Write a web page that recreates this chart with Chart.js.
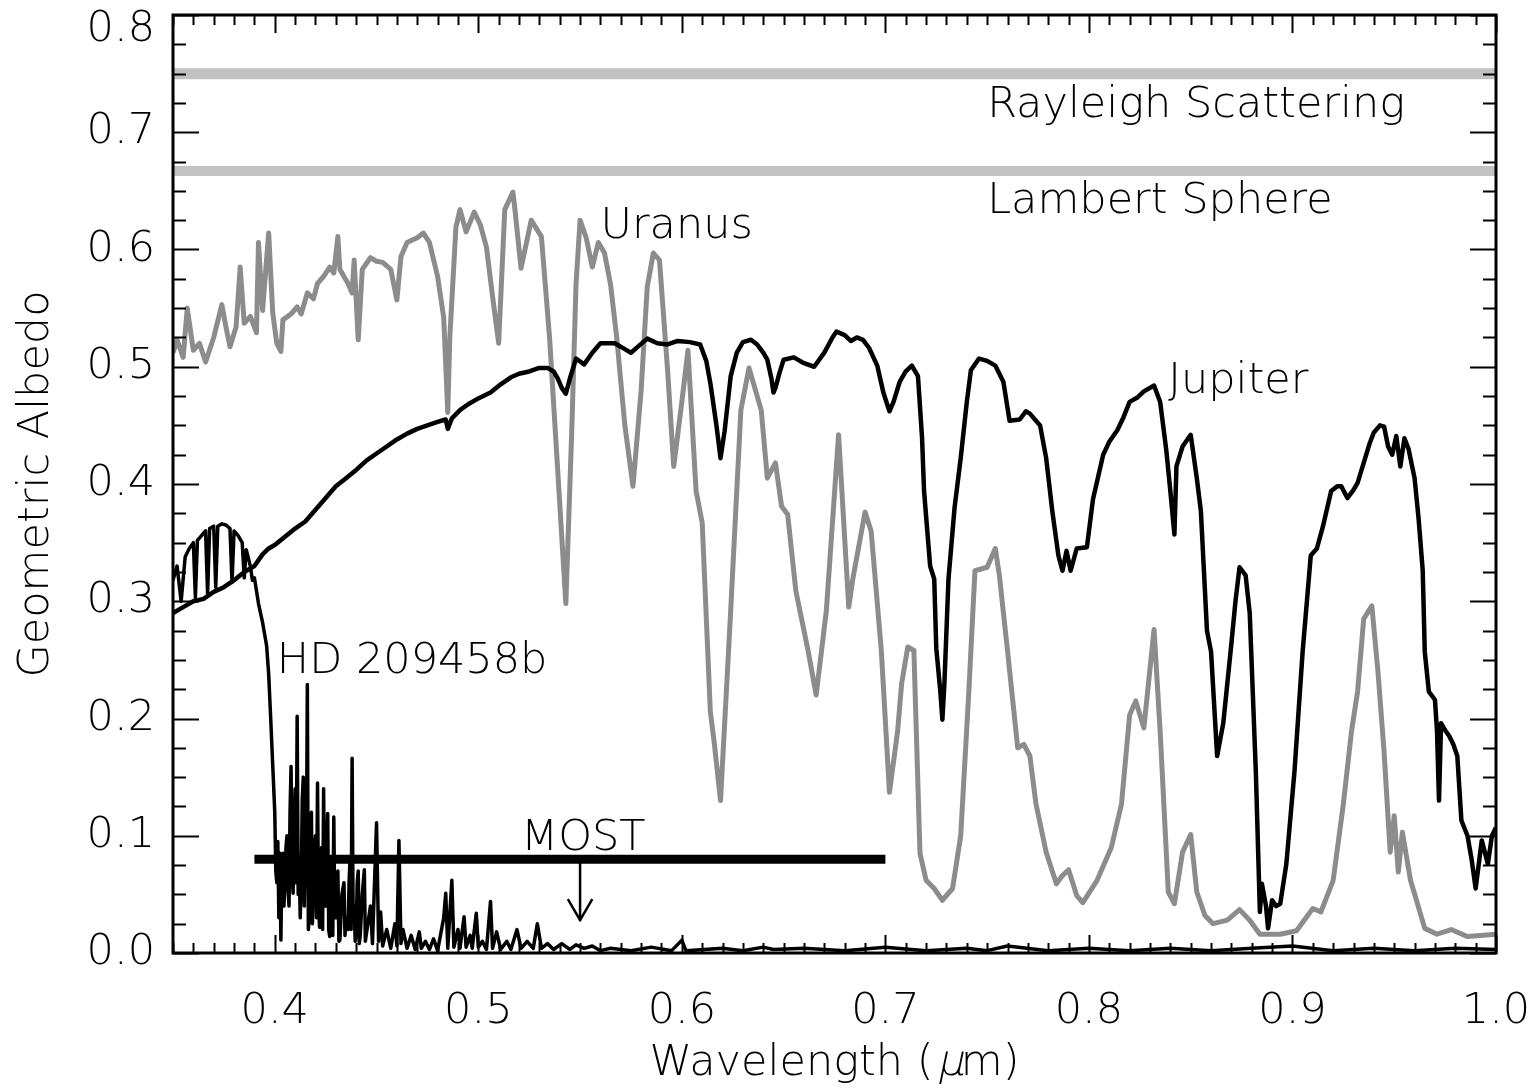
<!DOCTYPE html>
<html>
<head>
<meta charset="utf-8">
<script src="https://cdn.jsdelivr.net/npm/chart.js@4.4.1/dist/chart.umd.min.js"></script>
<style>
  body { margin: 0; background: #fff; }
  canvas { display: block; }
</style>
</head>
<body>
<canvas id="albedoChart" width="1538" height="1091"></canvas>
<script>
const FONT = "'DejaVu Sans', 'Liberation Sans', sans-serif";
const WEIGHT = 200;

const xTickLabels = [0.4, 0.5, 0.6, 0.7, 0.8, 0.9, 1.0];
const yTickLabels = [0.0, 0.1, 0.2, 0.3, 0.4, 0.5, 0.6, 0.7, 0.8];

const rayleighAlbedo = 0.75;
const lambertAlbedo = 0.667;

const uranusWave = [
  0.350, 0.352, 0.355, 0.357, 0.360, 0.363, 0.366, 0.370, 0.374, 0.376, 0.378, 0.381, 0.383, 0.385,
  0.388, 0.391, 0.392, 0.394, 0.397, 0.399, 0.401, 0.403, 0.404, 0.408, 0.411, 0.413, 0.416, 0.419,
  0.421, 0.424, 0.427, 0.429, 0.431, 0.432, 0.436, 0.438, 0.439, 0.441, 0.443, 0.447, 0.450, 0.453,
  0.457, 0.460, 0.462, 0.465, 0.470, 0.473, 0.476, 0.480, 0.483, 0.485, 0.486, 0.489, 0.491, 0.494,
  0.498, 0.501, 0.504, 0.507, 0.510, 0.513, 0.517, 0.518, 0.521, 0.526, 0.531, 0.535, 0.539, 0.543,
  0.546, 0.548, 0.550, 0.553, 0.556, 0.559, 0.562, 0.565, 0.568, 0.572, 0.576, 0.580, 0.583, 0.586,
  0.589, 0.593, 0.596, 0.600, 0.603, 0.607, 0.610, 0.614, 0.616, 0.619, 0.624, 0.629, 0.633, 0.639,
  0.642, 0.646, 0.649, 0.652, 0.656, 0.662, 0.666, 0.671, 0.677, 0.682, 0.684, 0.690, 0.693, 0.698,
  0.702, 0.706, 0.708, 0.711, 0.714, 0.717, 0.720, 0.724, 0.728, 0.733, 0.737, 0.741, 0.744, 0.750,
  0.754, 0.756, 0.760, 0.765, 0.768, 0.771, 0.774, 0.779, 0.784, 0.787, 0.790, 0.794, 0.797, 0.804,
  0.811, 0.816, 0.820, 0.823, 0.827, 0.832, 0.835, 0.839, 0.842, 0.846, 0.850, 0.853, 0.857, 0.861,
  0.868, 0.874, 0.879, 0.884, 0.894, 0.902, 0.910, 0.914, 0.920, 0.925, 0.929, 0.932, 0.935, 0.939,
  0.942, 0.945, 0.948, 0.950, 0.952, 0.954, 0.958, 0.965, 0.971, 0.978, 0.986, 1.000
];
const uranusAlbedo = [
  0.512, 0.523, 0.508, 0.550, 0.514, 0.520, 0.504, 0.525, 0.553, 0.534, 0.517, 0.534, 0.585, 0.537,
  0.543, 0.529, 0.606, 0.548, 0.614, 0.546, 0.520, 0.513, 0.540, 0.545, 0.551, 0.545, 0.563, 0.558,
  0.571, 0.577, 0.585, 0.580, 0.611, 0.583, 0.571, 0.563, 0.591, 0.523, 0.583, 0.593, 0.590, 0.589,
  0.583, 0.557, 0.594, 0.606, 0.610, 0.614, 0.606, 0.577, 0.542, 0.461, 0.525, 0.619, 0.634, 0.615,
  0.632, 0.621, 0.602, 0.560, 0.520, 0.634, 0.649, 0.634, 0.584, 0.625, 0.611, 0.525, 0.412, 0.298,
  0.450, 0.570, 0.625, 0.610, 0.585, 0.606, 0.597, 0.570, 0.525, 0.450, 0.398, 0.480, 0.568, 0.597,
  0.591, 0.497, 0.415, 0.470, 0.514, 0.394, 0.367, 0.206, 0.178, 0.130, 0.292, 0.463, 0.499, 0.463,
  0.405, 0.418, 0.381, 0.374, 0.309, 0.258, 0.220, 0.292, 0.442, 0.295, 0.319, 0.376, 0.360, 0.258,
  0.137, 0.189, 0.230, 0.261, 0.258, 0.085, 0.062, 0.055, 0.045, 0.055, 0.100, 0.223, 0.326, 0.329,
  0.345, 0.322, 0.258, 0.175, 0.178, 0.168, 0.127, 0.086, 0.059, 0.066, 0.071, 0.049, 0.043, 0.062,
  0.090, 0.127, 0.203, 0.215, 0.192, 0.276, 0.189, 0.052, 0.042, 0.086, 0.101, 0.052, 0.032, 0.025,
  0.028, 0.037, 0.028, 0.016, 0.016, 0.019, 0.038, 0.035, 0.062, 0.127, 0.189, 0.223, 0.285, 0.296,
  0.240, 0.172, 0.086, 0.117, 0.069, 0.103, 0.062, 0.021, 0.016, 0.020, 0.014, 0.016
];

const jupiterWave = [
  0.350, 0.355, 0.360, 0.365, 0.370, 0.375, 0.380, 0.385, 0.390, 0.394, 0.397, 0.400, 0.405, 0.410,
  0.415, 0.420, 0.425, 0.430, 0.435, 0.440, 0.445, 0.450, 0.455, 0.460, 0.465, 0.470, 0.475, 0.480,
  0.484, 0.485, 0.487, 0.491, 0.495, 0.500, 0.506, 0.511, 0.516, 0.520, 0.525, 0.530, 0.534, 0.537,
  0.539, 0.541, 0.543, 0.545, 0.548, 0.552, 0.556, 0.560, 0.567, 0.572, 0.575, 0.579, 0.583, 0.588,
  0.593, 0.598, 0.604, 0.609, 0.612, 0.614, 0.617, 0.619, 0.621, 0.624, 0.627, 0.630, 0.634, 0.637,
  0.640, 0.642, 0.644, 0.645, 0.646, 0.648, 0.650, 0.655, 0.660, 0.665, 0.670, 0.674, 0.676, 0.680,
  0.683, 0.686, 0.689, 0.692, 0.696, 0.699, 0.702, 0.704, 0.707, 0.710, 0.713, 0.716, 0.718, 0.719,
  0.722, 0.724, 0.725, 0.727, 0.728, 0.729, 0.731, 0.734, 0.737, 0.740, 0.742, 0.746, 0.750, 0.754,
  0.758, 0.760, 0.761, 0.766, 0.769, 0.771, 0.774, 0.776, 0.779, 0.782, 0.785, 0.787, 0.789, 0.791,
  0.794, 0.799, 0.802, 0.807, 0.810, 0.814, 0.817, 0.820, 0.824, 0.827, 0.832, 0.835, 0.838, 0.840,
  0.842, 0.843, 0.846, 0.850, 0.853, 0.855, 0.858, 0.860, 0.863, 0.866, 0.870, 0.872, 0.874, 0.877,
  0.879, 0.882, 0.884, 0.885, 0.887, 0.888, 0.890, 0.892, 0.894, 0.897, 0.901, 0.905, 0.909, 0.912,
  0.915, 0.919, 0.922, 0.924, 0.927, 0.930, 0.932, 0.935, 0.938, 0.940, 0.943, 0.945, 0.947, 0.949,
  0.951, 0.953, 0.955, 0.957, 0.960, 0.962, 0.964, 0.965, 0.967, 0.970, 0.971, 0.972, 0.973, 0.975,
  0.977, 0.979, 0.981, 0.983, 0.986, 0.988, 0.990, 0.993, 0.996, 0.998, 1.000
];
const jupiterAlbedo = [
  0.290, 0.295, 0.300, 0.302, 0.308, 0.312, 0.318, 0.325, 0.330, 0.340, 0.345, 0.348, 0.355, 0.362,
  0.368, 0.378, 0.388, 0.398, 0.405, 0.412, 0.420, 0.426, 0.432, 0.438, 0.443, 0.447, 0.450, 0.453,
  0.455, 0.447, 0.456, 0.463, 0.468, 0.473, 0.478, 0.485, 0.491, 0.494, 0.496, 0.499, 0.499, 0.496,
  0.490, 0.482, 0.477, 0.490, 0.507, 0.502, 0.512, 0.520, 0.520, 0.515, 0.512, 0.518, 0.524, 0.520,
  0.519, 0.522, 0.521, 0.519, 0.505, 0.486, 0.450, 0.422, 0.445, 0.492, 0.512, 0.521, 0.523, 0.519,
  0.512, 0.506, 0.490, 0.478, 0.482, 0.495, 0.506, 0.508, 0.503, 0.500, 0.512, 0.525, 0.530, 0.527,
  0.522, 0.525, 0.523, 0.516, 0.501, 0.478, 0.462, 0.470, 0.487, 0.496, 0.501, 0.492, 0.440, 0.394,
  0.330, 0.319, 0.260, 0.223, 0.199, 0.230, 0.319, 0.380, 0.422, 0.470, 0.497, 0.507, 0.505, 0.501,
  0.487, 0.465, 0.454, 0.455, 0.462, 0.460, 0.454, 0.450, 0.422, 0.377, 0.339, 0.326, 0.343, 0.326,
  0.345, 0.346, 0.387, 0.425, 0.436, 0.446, 0.457, 0.470, 0.474, 0.479, 0.484, 0.470, 0.429, 0.394,
  0.357, 0.415, 0.432, 0.442, 0.405, 0.377, 0.275, 0.257, 0.168, 0.196, 0.264, 0.300, 0.329, 0.322,
  0.290, 0.155, 0.035, 0.059, 0.040, 0.021, 0.045, 0.040, 0.042, 0.076, 0.155, 0.257, 0.339, 0.345,
  0.364, 0.394, 0.398, 0.398, 0.388, 0.395, 0.401, 0.418, 0.435, 0.444, 0.450, 0.449, 0.432, 0.425,
  0.441, 0.415, 0.439, 0.430, 0.405, 0.370, 0.326, 0.257, 0.223, 0.216, 0.190, 0.130, 0.196, 0.190,
  0.185, 0.178, 0.168, 0.113, 0.100, 0.080, 0.055, 0.096, 0.076, 0.100, 0.107
];

const hdWave = [
  0.350, 0.352, 0.354, 0.356, 0.358, 0.360, 0.361, 0.362, 0.364, 0.366, 0.367, 0.368, 0.370, 0.371,
  0.372, 0.374, 0.376, 0.378, 0.379, 0.380, 0.382, 0.384, 0.385, 0.386, 0.388, 0.389, 0.390, 0.392,
  0.394, 0.396, 0.397, 0.398, 0.399,
  0.4000, 0.4005, 0.4010, 0.4015, 0.4020, 0.4025, 0.4030, 0.4035, 0.4040, 0.4045, 0.4050, 0.4055,
  0.4060, 0.4065, 0.4070, 0.4075, 0.4080, 0.4085, 0.4090, 0.4095, 0.4100, 0.4105, 0.4110, 0.4115,
  0.4120, 0.4125, 0.4130, 0.4135, 0.4140, 0.4145, 0.4150, 0.4155, 0.4160, 0.4165, 0.4170, 0.4175,
  0.4180, 0.4185, 0.4190, 0.4195, 0.4200, 0.4205, 0.4210, 0.4215, 0.4220, 0.4225, 0.4230, 0.4235,
  0.4240, 0.4245, 0.4250, 0.4255, 0.4260, 0.4265, 0.4270, 0.4275, 0.4280, 0.4285, 0.4290, 0.4295,
  0.4300, 0.4305, 0.4310, 0.4315, 0.4320, 0.4330, 0.4340, 0.4345, 0.4350, 0.4360, 0.4365, 0.4370,
  0.4375, 0.4380, 0.4385, 0.4390, 0.4395, 0.4400, 0.4405, 0.4410, 0.4415, 0.4420, 0.4430, 0.4440,
  0.4445,
  0.447, 0.448, 0.450, 0.451, 0.452, 0.453, 0.455,
  0.457, 0.459, 0.460, 0.461, 0.462, 0.463, 0.465, 0.467, 0.469, 0.471, 0.472, 0.474, 0.476, 0.478,
  0.480, 0.483, 0.484, 0.485, 0.487, 0.488, 0.490, 0.491, 0.493, 0.494, 0.496, 0.497, 0.499, 0.500,
  0.502, 0.504, 0.506, 0.507, 0.509, 0.511, 0.514, 0.516, 0.519, 0.521, 0.524, 0.527, 0.529, 0.531,
  0.534, 0.537, 0.541, 0.545, 0.548, 0.552, 0.556, 0.560, 0.565, 0.575, 0.585, 0.595, 0.600, 0.602,
  0.620, 0.630, 0.640, 0.645, 0.660, 0.680, 0.700, 0.720, 0.740, 0.750, 0.760, 0.780, 0.800, 0.820,
  0.840, 0.860, 0.880, 0.900, 0.920, 0.940, 0.960, 0.980, 1.000
];
const hdAlbedo = [
  0.318, 0.330, 0.300, 0.338, 0.345, 0.350, 0.303, 0.352, 0.356, 0.360, 0.306, 0.362, 0.364, 0.312,
  0.364, 0.366, 0.365, 0.362, 0.316, 0.360, 0.356, 0.350, 0.320, 0.344, 0.330, 0.318, 0.320, 0.298,
  0.282, 0.262, 0.238, 0.200, 0.160,
  0.120, 0.070, 0.060, 0.095, 0.030, 0.085, 0.011, 0.075, 0.085, 0.040, 0.060, 0.090,
  0.100, 0.055, 0.040, 0.120, 0.159, 0.070, 0.051, 0.110, 0.140, 0.060, 0.202, 0.050,
  0.080, 0.030, 0.060, 0.130, 0.150, 0.040, 0.090, 0.070, 0.229, 0.020, 0.031, 0.100,
  0.120, 0.025, 0.060, 0.090, 0.100, 0.030, 0.145, 0.040, 0.022, 0.080, 0.090, 0.020,
  0.140, 0.050, 0.040, 0.090, 0.119, 0.020, 0.014, 0.070, 0.080, 0.015, 0.116, 0.030,
  0.030, 0.060, 0.070, 0.010, 0.011, 0.050, 0.060, 0.015, 0.030, 0.020, 0.060, 0.080,
  0.020, 0.166, 0.030, 0.040, 0.010, 0.017, 0.060, 0.070, 0.008, 0.015, 0.050, 0.071,
  0.010,
  0.040, 0.008, 0.111, 0.010, 0.035, 0.006, 0.020,
  0.004, 0.025, 0.006, 0.096, 0.008, 0.020, 0.004, 0.015, 0.003, 0.018, 0.004, 0.010, 0.003, 0.012,
  0.002, 0.030, 0.051, 0.004, 0.062, 0.005, 0.020, 0.004, 0.031, 0.005, 0.015, 0.004, 0.034, 0.005,
  0.010, 0.003, 0.044, 0.004, 0.018, 0.003, 0.010, 0.003, 0.020, 0.004, 0.010, 0.004, 0.025, 0.004,
  0.008, 0.003, 0.008, 0.003, 0.007, 0.004, 0.006, 0.002, 0.004, 0.002, 0.005, 0.002, 0.011, 0.002,
  0.004, 0.002, 0.005, 0.003, 0.004, 0.002, 0.005, 0.002, 0.004, 0.002, 0.006, 0.002, 0.004, 0.002,
  0.004, 0.002, 0.004, 0.006, 0.002, 0.004, 0.002, 0.004, 0.003
];

// MOST upper limit: band edges, level, and the arrow
const mostBand = [0.39, 0.70];
const mostLevel = 0.08;
const mostArrowWave = 0.55;
const mostArrowTip = 0.028;

const annotations = [
  { text: "Rayleigh Scattering", x: 0.75, y: 0.713 },
  { text: "Lambert Sphere", x: 0.75, y: 0.631 },
  { text: "Uranus", x: 0.56, y: 0.610 },
  { text: "Jupiter", x: 0.839, y: 0.478 },
  { text: "HD 209458b", x: 0.401, y: 0.239 },
  { text: "MOST", x: 0.521, y: 0.088 },
];

function toPoints(xs, ys) {
  return xs.map((x, i) => ({ x, y: ys[i] }));
}

function flatLine(level) {
  return [{ x: 0.35, y: level }, { x: 1.0, y: level }];
}

// inward ticks on all four sides plus the box
const frameTicks = {
  id: "frameTicks",
  afterDatasetsDraw(chart) {
    const { ctx, chartArea: a, scales: { x, y } } = chart;
    ctx.save();
    ctx.strokeStyle = "#000";
    ctx.lineWidth = 2;
    ctx.beginPath();
    for (let v = 35; v <= 100; v++) {
      const px = Math.round(x.getPixelForValue(v / 100)) + 0.5;
      const len = v % 10 === 0 ? 18 : 10;
      ctx.moveTo(px, a.bottom);
      ctx.lineTo(px, a.bottom - len);
      ctx.moveTo(px, a.top);
      ctx.lineTo(px, a.top + len);
    }
    for (let k = 0; k <= 32; k++) {
      const py = Math.round(y.getPixelForValue(k * 0.025)) + 0.5;
      const len = k % 4 === 0 ? 26 : 13;
      ctx.moveTo(a.left, py);
      ctx.lineTo(a.left + len, py);
      ctx.moveTo(a.right, py);
      ctx.lineTo(a.right - len, py);
    }
    ctx.stroke();
    ctx.lineWidth = 3;
    ctx.strokeRect(a.left, a.top, a.right - a.left, a.bottom - a.top);
    ctx.restore();
  },
};

const textLabels = {
  id: "textLabels",
  afterDraw(chart) {
    const { ctx, chartArea: a, scales: { x, y } } = chart;
    ctx.save();
    ctx.fillStyle = "#000";
    ctx.font = `${WEIGHT} 43px ${FONT}`;
    ctx.textAlign = "left";
    ctx.textBaseline = "alphabetic";
    annotations.forEach((lab) => {
      ctx.fillText(lab.text, x.getPixelForValue(lab.x), y.getPixelForValue(lab.y));
    });

    // x title; the mu is slanted by hand so it keeps the light weight
    const parts = ["Wavelength (", "\u03bc", "m)"];
    const widths = parts.map((t) => ctx.measureText(t).width);
    const baseline = 1075;
    let cx = (a.left + a.right) / 2 - widths.reduce((s, w) => s + w, 0) / 2;
    parts.forEach((t, i) => {
      if (i === 1) {
        ctx.save();
        ctx.translate(cx + 3, baseline);
        ctx.transform(1, 0, -0.21, 1, 0, 0);
        ctx.fillText(t, 0, 0);
        ctx.restore();
      } else {
        ctx.fillText(t, cx, baseline);
      }
      cx += widths[i];
    });
    ctx.restore();
  },
};

const ctx = document.getElementById("albedoChart");

new Chart(ctx, {
  type: "scatter",
  data: {
    datasets: [
      {
        label: "HD 209458b",
        data: toPoints(hdWave, hdAlbedo),
        borderColor: "#000",
        borderWidth: 3.5,
        order: 1,
      },
      {
        label: "Jupiter",
        data: toPoints(jupiterWave, jupiterAlbedo),
        borderColor: "#000",
        borderWidth: 4.5,
        order: 2,
      },
      {
        label: "Uranus",
        data: toPoints(uranusWave, uranusAlbedo),
        borderColor: "#8c8c8c",
        borderWidth: 5,
        order: 3,
      },
      {
        label: "Rayleigh Scattering",
        data: flatLine(rayleighAlbedo),
        borderColor: "#c2c2c2",
        borderWidth: 11,
        clip: 0,
        order: 5,
      },
      {
        label: "Lambert Sphere",
        data: flatLine(lambertAlbedo),
        borderColor: "#c2c2c2",
        borderWidth: 10,
        clip: 0,
        order: 5,
      },
      {
        label: "MOST",
        data: [{ x: mostBand[0], y: mostLevel }, { x: mostBand[1], y: mostLevel }],
        borderColor: "#000",
        borderWidth: 9,
        borderCapStyle: "butt",
        order: 0,
      },
      {
        label: "MOST arrow",
        data: [
          { x: mostArrowWave, y: mostLevel },
          { x: mostArrowWave, y: mostArrowTip },
        ],
        borderColor: "#000",
        borderWidth: 2.5,
        order: 0,
      },
      {
        label: "MOST arrow head",
        data: [
          { x: mostArrowWave - 0.006, y: mostArrowTip + 0.018 },
          { x: mostArrowWave, y: mostArrowTip },
          { x: mostArrowWave + 0.006, y: mostArrowTip + 0.018 },
        ],
        borderColor: "#000",
        borderWidth: 2.5,
        order: 0,
      },
    ],
  },
  options: {
    responsive: false,
    animation: false,
    devicePixelRatio: 1,
    layout: { padding: { left: 0, top: 15, right: 42, bottom: 0 } },
    datasets: {
      scatter: {
        showLine: true,
        pointRadius: 0,
        pointHoverRadius: 0,
        tension: 0,
        borderJoinStyle: "round",
      },
    },
    plugins: {
      legend: { display: false },
      tooltip: { enabled: false },
    },
    scales: {
      x: {
        type: "linear",
        min: 0.35,
        max: 1.0,
        grid: { display: false, drawTicks: false },
        border: { display: false },
        afterBuildTicks: (scale) => {
          scale.ticks = xTickLabels.map((value) => ({ value }));
        },
        afterFit: (scale) => {
          scale.height = 138;
          scale.paddingLeft = 0;
          scale.paddingRight = 0;
        },
        ticks: {
          padding: 33,
          color: "#000",
          maxRotation: 0,
          font: { family: FONT, size: 43, weight: WEIGHT },
          callback: (v) => Number(v).toFixed(1),
        },
      },
      y: {
        type: "linear",
        min: 0,
        max: 0.8,
        grid: { display: false, drawTicks: false },
        border: { display: false },
        afterBuildTicks: (scale) => {
          scale.ticks = yTickLabels.map((value) => ({ value }));
        },
        afterFit: (scale) => {
          scale.width = 173;
          scale.paddingTop = 0;
          scale.paddingBottom = 0;
        },
        title: {
          display: true,
          text: "Geometric Albedo",
          color: "#000",
          font: { family: FONT, size: 43, weight: WEIGHT },
          padding: { top: 11, bottom: 0 },
        },
        ticks: {
          padding: 18,
          color: "#000",
          font: (c) =>
            c.tick && c.tick.value === 0.8
              ? { family: FONT, size: 43, weight: WEIGHT, lineHeight: 0.7 }
              : { family: FONT, size: 43, weight: WEIGHT },
          callback: (v) => (v === 0.8 ? ["", "0.8"] : Number(v).toFixed(1)),
        },
      },
    },
  },
  plugins: [frameTicks, textLabels],
});
</script>
</body>
</html>
